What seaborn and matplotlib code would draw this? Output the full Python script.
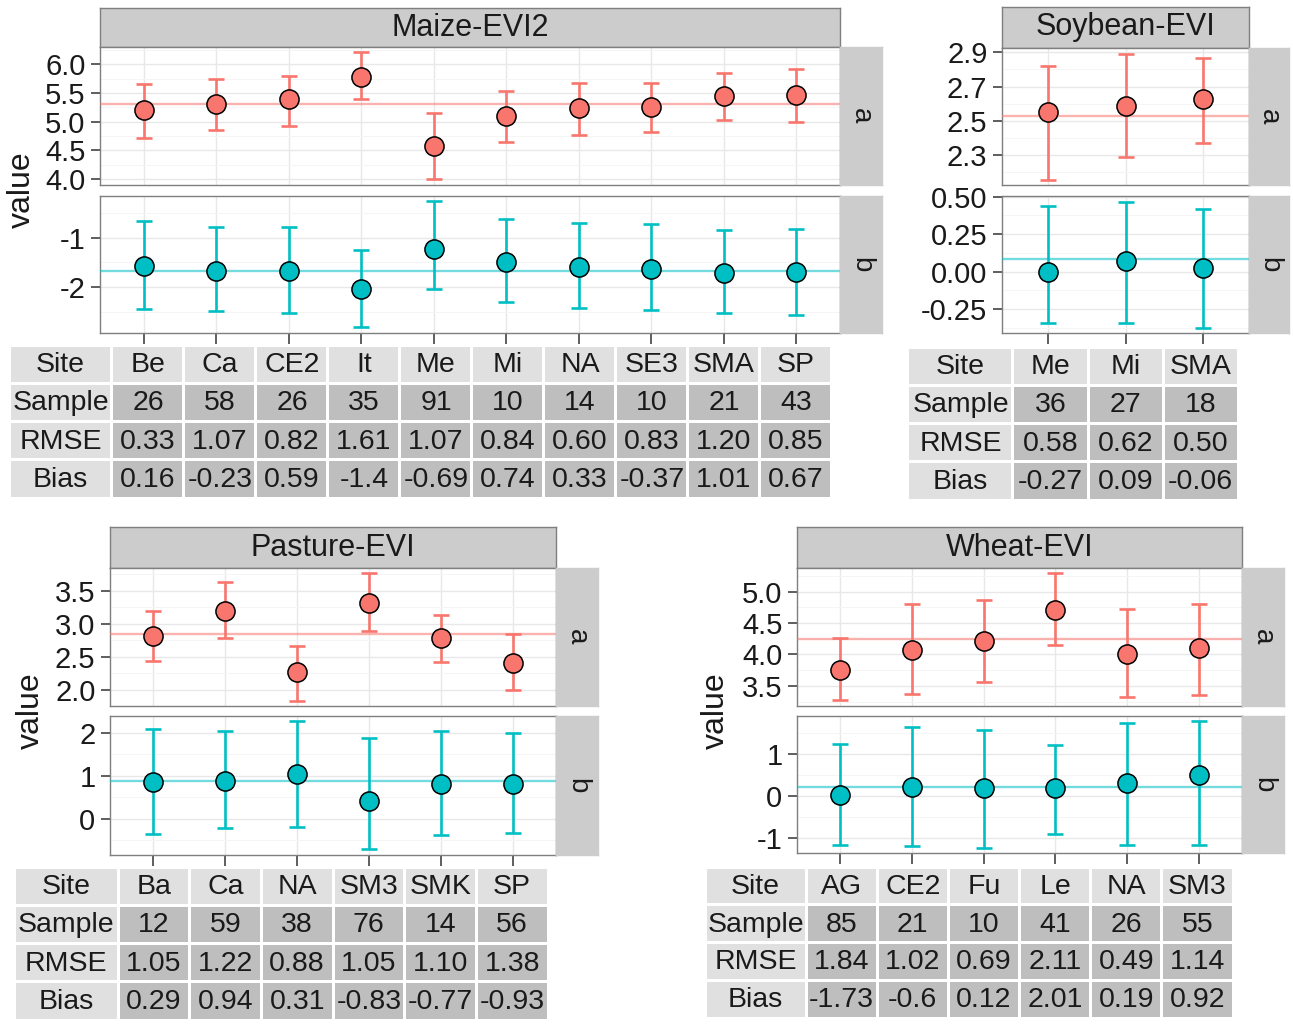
import numpy as np
import pandas as pd
import matplotlib
matplotlib.use("Agg")
import matplotlib.pyplot as plt
from matplotlib.patches import Rectangle
from matplotlib.ticker import FixedLocator, MultipleLocator, FormatStrFormatter, NullFormatter
import seaborn as sns

# ------------------------------------------------------------------ data
maize_sites = ['Be', 'Ca', 'CE2', 'It', 'Me', 'Mi', 'NA', 'SE3', 'SMA', 'SP']
maize_a = [5.21, 5.30, 5.39, 5.78, 4.57, 5.10, 5.23, 5.25, 5.44, 5.47]
maize_a_lo = [4.72, 4.85, 4.93, 5.39, 4.00, 4.65, 4.76, 4.81, 5.02, 4.99]
maize_a_hi = [5.65, 5.75, 5.79, 6.22, 5.15, 5.54, 5.68, 5.67, 5.84, 5.91]
maize_a_mean = 5.30
maize_b = [-1.57, -1.68, -1.68, -2.05, -1.23, -1.49, -1.60, -1.64, -1.72, -1.69]
maize_b_lo = [-2.44, -2.48, -2.52, -2.81, -2.05, -2.31, -2.43, -2.46, -2.52, -2.57]
maize_b_hi = [-0.66, -0.79, -0.79, -1.25, -0.27, -0.62, -0.71, -0.73, -0.85, -0.83]
maize_b_mean = -1.67
maize_sample = ['26', '58', '26', '35', '91', '10', '14', '10', '21', '43']
maize_rmse = ['0.33', '1.07', '0.82', '1.61', '1.07', '0.84', '0.60', '0.83', '1.20', '0.85']
maize_bias = ['0.16', '-0.23', '0.59', '-1.4', '-0.69', '0.74', '0.33', '-0.37', '1.01', '0.67']

soy_sites = ['Me', 'Mi', 'SMA']
soy_a = [2.554, 2.587, 2.626]
soy_a_lo = [2.155, 2.291, 2.369]
soy_a_hi = [2.822, 2.892, 2.865]
soy_a_mean = 2.527
soy_b = [0.000, 0.071, 0.022]
soy_b_lo = [-0.340, -0.344, -0.377]
soy_b_hi = [0.440, 0.467, 0.418]
soy_b_mean = 0.083
soy_sample = ['36', '27', '18']
soy_rmse = ['0.58', '0.62', '0.50']
soy_bias = ['-0.27', '0.09', '-0.06']

past_sites = ['Ba', 'Ca', 'NA', 'SM3', 'SMK', 'SP']
past_a = [2.82, 3.20, 2.27, 3.32, 2.78, 2.41]
past_a_lo = [2.44, 2.79, 1.83, 2.89, 2.42, 2.00]
past_a_hi = [3.19, 3.64, 2.66, 3.77, 3.13, 2.84]
past_a_mean = 2.84
past_b = [0.86, 0.87, 1.04, 0.42, 0.81, 0.81]
past_b_lo = [-0.36, -0.22, -0.20, -0.69, -0.37, -0.32]
past_b_hi = [2.08, 2.05, 2.27, 1.87, 2.05, 2.00]
past_b_mean = 0.87
past_sample = ['12', '59', '38', '76', '14', '56']
past_rmse = ['1.05', '1.22', '0.88', '1.05', '1.10', '1.38']
past_bias = ['0.29', '0.94', '0.31', '-0.83', '-0.77', '-0.93']

wheat_sites = ['AG', 'CE2', 'Fu', 'Le', 'NA', 'SM3']
wheat_a = [3.75, 4.07, 4.21, 4.70, 4.00, 4.10]
wheat_a_lo = [3.27, 3.37, 3.56, 4.15, 3.32, 3.36]
wheat_a_hi = [4.26, 4.81, 4.87, 5.29, 4.73, 4.80]
wheat_a_mean = 4.24
wheat_b = [0.02, 0.21, 0.20, 0.18, 0.30, 0.49]
wheat_b_lo = [-1.17, -1.19, -1.22, -0.89, -1.15, -1.15]
wheat_b_hi = [1.23, 1.63, 1.57, 1.21, 1.73, 1.79]
wheat_b_mean = 0.21
wheat_sample = ['85', '21', '10', '41', '26', '55']
wheat_rmse = ['1.84', '1.02', '0.69', '2.11', '0.49', '1.14']
wheat_bias = ['-1.73', '-0.6', '0.12', '2.01', '0.19', '0.92']

# ------------------------------------------------------------------ style
W, H = 1293, 1024
sns.set_theme(style="white")
plt.rcParams['font.family'] = ['Liberation Sans', 'DejaVu Sans']
plt.rcParams['axes.unicode_minus'] = False

RED = '#F8766D'
TEAL = '#00BFC4'
STRIP = '#cccccc'
BORDER = '#7f7f7f'
LIGHT = '#e0e0e0'
DARK = '#bebebe'
TXT = '#1a1a1a'
TICK_FS = 21
TABLE_FS = 20.5
STRIP_FS = 22

fig = plt.figure(figsize=(W / 100, H / 100), dpi=100)
fig.patch.set_facecolor('white')


def box(x0, y0, x1, y1):
    return [x0 / W, 1 - y1 / H, (x1 - x0) / W, (y1 - y0) / H]


def series(ax, sites, pts, lo, hi, mean, color, ylim, major, minor_step, fmt, bottom):
    df = pd.DataFrame({'site': sites, 'value': pts, 'lo': lo, 'hi': hi})
    sns.scatterplot(data=df, x='site', y='value', ax=ax, s=190, color=color,
                    edgecolor='black', linewidth=1.1, zorder=5, legend=False)
    ax.errorbar(df['site'], df['value'],
                yerr=[df['value'] - df['lo'], df['hi'] - df['value']],
                fmt='none', ecolor=color, elinewidth=1.9, capsize=6,
                capthick=1.9, zorder=4)
    ax.axhline(mean, color=color, lw=1.7, alpha=0.55, zorder=3)
    n = len(sites)
    ax.set_xlim(-0.6, n - 0.4)
    ax.set_ylim(*ylim)
    ax.yaxis.set_major_locator(FixedLocator(major))
    ax.yaxis.set_minor_locator(MultipleLocator(minor_step))
    ax.yaxis.set_major_formatter(FormatStrFormatter(fmt))
    ax.yaxis.set_minor_formatter(NullFormatter())
    ax.set_xlabel('')
    ax.set_ylabel('')
    ax.set_facecolor('white')
    ax.set_axisbelow(True)
    ax.grid(which='major', color='#e8e8e8', lw=1.0)
    ax.grid(which='minor', axis='y', color='#f5f5f5', lw=0.7)
    for s in ax.spines.values():
        s.set_color(BORDER)
        s.set_linewidth(1.0)
        s.set_visible(True)
    ax.tick_params(axis='y', which='major', direction='out', length=6.5, width=1.1,
                   color='#333333', labelsize=TICK_FS, labelcolor=TXT, pad=4, left=True)
    ax.tick_params(axis='y', which='minor', length=0)
    if bottom:
        ax.tick_params(axis='x', direction='out', length=8, width=1.1, color='#333333',
                       labelbottom=False, bottom=True)
    else:
        ax.tick_params(axis='x', length=0, labelbottom=False, bottom=False)


def strip(rect, text, rotation=0, fs=STRIP_FS, edge=True):
    ax = fig.add_axes(rect)
    ax.set_facecolor(STRIP)
    ax.set_xticks([])
    ax.set_yticks([])
    for s in ax.spines.values():
        s.set_color(BORDER if edge else STRIP)
        s.set_linewidth(1.0)
        s.set_visible(True)
    ax.text(0.5, 0.5, text, transform=ax.transAxes, ha='center', va='center',
            rotation=rotation, fontsize=fs, color=TXT)


def table(x0, y0, x1, y1, label_w, sites, sample, rmse, bias):
    ax = fig.add_axes(box(x0, y0, x1, y1))
    ax.set_axis_off()
    n = len(sites)
    total = x1 - x0
    col_w = (total - label_w) / n
    row_h = (y1 - y0) / 4
    ax.set_xlim(0, total)
    ax.set_ylim(y1 - y0, 0)
    rows = [['Site'] + sites, ['Sample'] + sample, ['RMSE'] + rmse, ['Bias'] + bias]
    for r, row in enumerate(rows):
        for c, txt in enumerate(row):
            cx = 0 if c == 0 else label_w + (c - 1) * col_w
            w = label_w if c == 0 else col_w
            fc = LIGHT if (r == 0 or c == 0) else DARK
            ax.add_patch(Rectangle((cx + 1.5, r * row_h + 1.5), w - 3, row_h - 3,
                                   facecolor=fc, edgecolor='none'))
            ax.text(cx + w / 2, r * row_h + row_h / 2 + 1, txt, ha='center',
                    va='center', fontsize=TABLE_FS, color=TXT)


def facet(title, sites, a, alo, ahi, amean, b, blo, bhi, bmean,
          xs, ytop, ya, yb, sx, a_cfg, b_cfg, tab, ylab):
    x0, x1 = xs
    strip(box(x0, ytop, x1, ya[0]), title)
    ax_a = fig.add_axes(box(x0, ya[0], x1, ya[1]))
    series(ax_a, sites, a, alo, ahi, amean, RED, *a_cfg, bottom=False)
    ax_b = fig.add_axes(box(x0, yb[0], x1, yb[1]))
    series(ax_b, sites, b, blo, bhi, bmean, TEAL, *b_cfg, bottom=True)
    strip(box(x1, ya[0], x1 + sx, ya[1]), 'a', rotation=-90, fs=20, edge=False)
    strip(box(x1, yb[0], x1 + sx, yb[1]), 'b', rotation=-90, fs=20, edge=False)
    table(*tab, sites, *ylab)


# Maize
facet('Maize-EVI2', maize_sites, maize_a, maize_a_lo, maize_a_hi, maize_a_mean,
      maize_b, maize_b_lo, maize_b_hi, maize_b_mean,
      (100, 840), 8, (47, 185), (196, 333), 42,
      ((3.895, 6.30), [4.0, 4.5, 5.0, 5.5, 6.0], 0.25, '%.1f'),
      ((-2.93, -0.16), [-2, -1], 0.5, '%d'),
      (9, 345, 832, 498, 103),
      (maize_sample, maize_rmse, maize_bias))

# Soybean
facet('Soybean-EVI', soy_sites, soy_a, soy_a_lo, soy_a_hi, soy_a_mean,
      soy_b, soy_b_lo, soy_b_hi, soy_b_mean,
      (1002, 1249), 7, (48, 185), (196, 333), 40,
      ((2.127, 2.925), [2.3, 2.5, 2.7, 2.9], 0.1, '%.1f'),
      ((-0.408, 0.504), [-0.25, 0.0, 0.25, 0.5], 0.125, '%.2f'),
      (908, 347, 1238, 500, 105),
      (soy_sample, soy_rmse, soy_bias))

# Pasture
facet('Pasture-EVI', past_sites, past_a, past_a_lo, past_a_hi, past_a_mean,
      past_b, past_b_lo, past_b_hi, past_b_mean,
      (110, 556), 527, (568, 706), (716, 855), 42,
      ((1.755, 3.847), [2.0, 2.5, 3.0, 3.5], 0.25, '%.1f'),
      ((-0.84, 2.39), [0, 1, 2], 0.5, '%d'),
      (14, 867, 548, 1020, 104),
      (past_sample, past_rmse, past_bias))

# Wheat
facet('Wheat-EVI', wheat_sites, wheat_a, wheat_a_lo, wheat_a_hi, wheat_a_mean,
      wheat_b, wheat_b_lo, wheat_b_hi, wheat_b_mean,
      (797, 1242), 527, (568, 706), (716, 853), 42,
      ((3.18, 5.375), [3.5, 4.0, 4.5, 5.0], 0.25, '%.1f'),
      ((-1.35, 1.897), [-1, 0, 1], 0.5, '%d'),
      (705, 867, 1233, 1018, 101),
      (wheat_sample, wheat_rmse, wheat_bias))

# y-axis titles
for (x, y) in [(22, 190), (31, 711), (716, 711)]:
    fig.text(x / W, 1 - y / H, 'value', rotation=90, ha='center', va='center',
             fontsize=23, color=TXT)

fig.savefig('out.png', dpi=100, facecolor='white')
